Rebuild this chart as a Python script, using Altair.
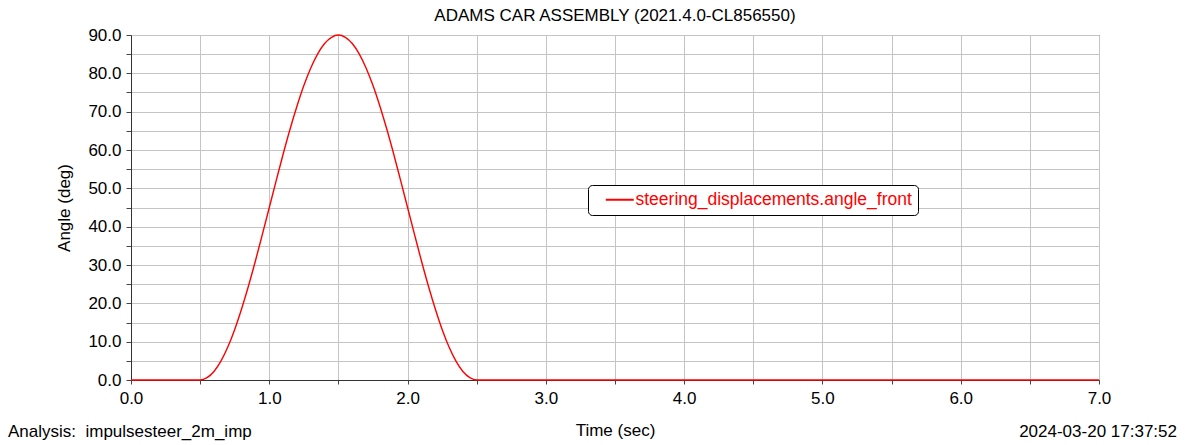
import altair as alt
import pandas as pd

# values
time_s = [0.0, 0.5, 0.55, 0.6, 0.65, 0.7, 0.75, 0.8, 0.85, 0.9, 0.95, 1.0,
          1.05, 1.1, 1.15, 1.2, 1.25, 1.3, 1.35, 1.4, 1.45, 1.5,
          1.55, 1.6, 1.65, 1.7, 1.75, 1.8, 1.85, 1.9, 1.95, 2.0,
          2.05, 2.1, 2.15, 2.2, 2.25, 2.3, 2.35, 2.4, 2.45, 2.5, 7.0]
angle_deg = [0.0, 0.0, 0.6, 2.2, 4.9, 8.6, 13.2, 18.6, 24.6, 31.1, 38.0, 45.0,
             52.0, 58.9, 65.4, 71.4, 76.8, 81.4, 85.1, 87.8, 89.4, 90.0,
             89.4, 87.8, 85.1, 81.4, 76.8, 71.4, 65.4, 58.9, 52.0, 45.0,
             38.0, 31.1, 24.6, 18.6, 13.2, 8.6, 4.9, 2.2, 0.6, 0.0, 0.0]
series_name = "steering_displacements.angle_front"
x_ticks = [i * 0.5 for i in range(15)]
y_ticks = [i * 5 for i in range(19)]
title_text = "ADAMS CAR ASSEMBLY (2021.4.0-CL856550)"
analysis_text = "Analysis:\u00a0 impulsesteer_2m_imp"
date_text = "2024-03-20 17:37:52"

df = pd.DataFrame({"t": time_s, "a": angle_deg, "s": [series_name] * len(time_s)})

FONT = "Liberation Sans"
FS = 17

line = alt.Chart(df).mark_line(strokeWidth=1.4, interpolate="monotone").encode(
    x=alt.X("t:Q", scale=alt.Scale(domain=[0, 7], nice=False),
            axis=alt.Axis(values=x_ticks, title="Time (sec)",
                          labelExpr="datum.value % 1 == 0 ? format(datum.value, '.1f') : ''",
                          tickSize=4, tickColor="#444444", labelPadding=6, titlePadding=16,
                          gridColor="#c4c4c4", domainColor="#333333",
                          labelFlush=False)),
    y=alt.Y("a:Q", scale=alt.Scale(domain=[0, 90], nice=False),
            axis=alt.Axis(values=y_ticks, title="Angle (deg)",
                          labelExpr="datum.value % 10 == 0 ? format(datum.value, '.1f') : ''",
                          tickSize=5, tickColor="#444444",
                          labelPadding=5, titlePadding=14,
                          gridColor="#c4c4c4", domainColor="#333333",
                          labelFlush=False)),
    color=alt.Color("s:N", scale=alt.Scale(domain=[series_name], range=["#ff0000"]),
                    legend=alt.Legend(title=None, orient="none", legendX=457, legendY=150,
                                      symbolType="M-2,0H2", symbolSize=196,
                                      symbolStrokeWidth=2, symbolStrokeColor="#ff0000",
                                      symbolOffset=17, labelOffset=7, labelLimit=0,
                                      labelColor="#ff0000", labelFontSize=17.5, labelFont=FONT,
                                      fillColor="white", strokeColor="black", cornerRadius=4,
                                      padding=6)),
)

notes = pd.DataFrame({"txt": [analysis_text], "r": [date_text]})
left_txt = alt.Chart(notes).mark_text(align="left", baseline="alphabetic", fontSize=FS, font=FONT,
                                      color="black").encode(
    x=alt.value(-123), y=alt.value(402), text="txt:N")
right_txt = alt.Chart(notes).mark_text(align="right", baseline="alphabetic", fontSize=FS, font=FONT,
                                       color="black").encode(
    x=alt.value(1046), y=alt.value(402), text="r:N")

chart = alt.layer(line, left_txt, right_txt).properties(
    width=968, height=345,
    title=alt.TitleParams(title_text, fontSize=FS, fontWeight="normal", font=FONT,
                          color="black", anchor="middle", offset=1),
    autosize=alt.AutoSizeParams(type="none"),
    padding={"left": 131, "top": 35, "right": 88, "bottom": 65},
).configure_view(stroke="#666666").configure_axis(
    labelFont=FONT, titleFont=FONT, labelFontSize=FS, titleFontSize=FS,
    titleFontWeight="normal", labelColor="black", titleColor="black", gridWidth=1
)

chart.save("out.html", embed_options={"renderer": "svg", "actions": False})
